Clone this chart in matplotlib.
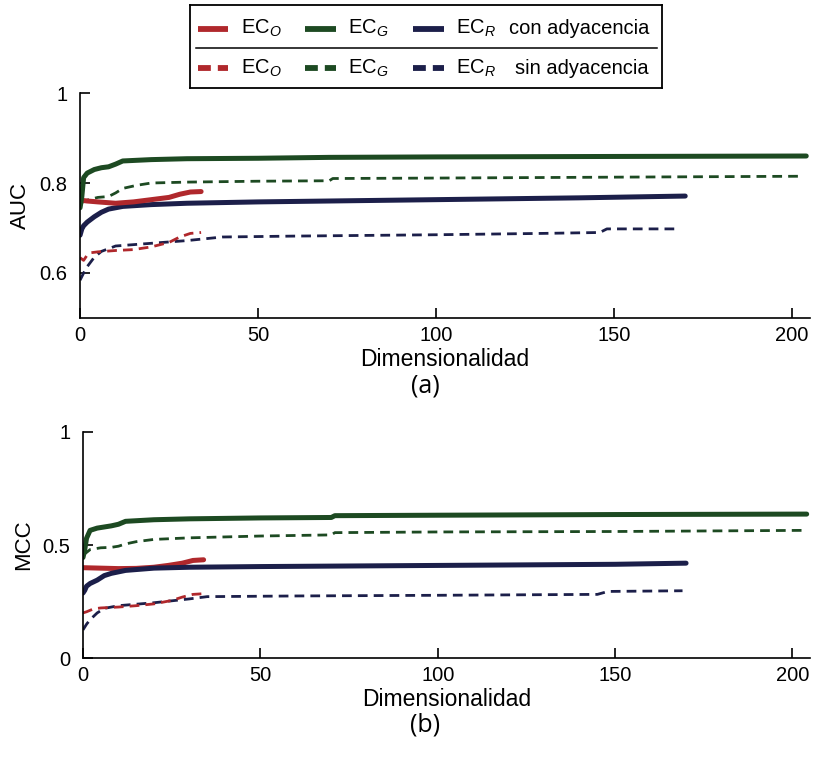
"""Curvas AUC y MCC frente a la dimensionalidad de los embeddings."""

import matplotlib
matplotlib.use("Agg")
import matplotlib.pyplot as plt
from matplotlib.lines import Line2D

plt.rcParams["font.family"] = ["Liberation Sans", "DejaVu Sans"]
plt.rcParams["mathtext.fontset"] = "custom"
plt.rcParams["mathtext.rm"] = "Liberation Sans"
plt.rcParams["mathtext.it"] = "Liberation Sans:italic"

RED = "#b0282c"
GREEN = "#1d4a22"
NAVY = "#1c1f4a"

# ---- AUC, con adyacencia ----
auc_o_x = [0, 2, 5, 10, 15, 20, 25, 28, 31, 34]
auc_o_y = [0.762, 0.760, 0.758, 0.755, 0.758, 0.763, 0.768, 0.775, 0.780, 0.781]
auc_g_x = [0, 0.5, 1, 2, 4, 6, 8, 10, 12, 20, 30, 50, 70, 100, 150, 204]
auc_g_y = [0.745, 0.770, 0.812, 0.822, 0.830, 0.834, 0.836, 0.842, 0.849, 0.852,
           0.854, 0.855, 0.857, 0.858, 0.859, 0.860]
auc_r_x = [0, 0.5, 1, 2, 4, 6, 8, 12, 20, 30, 50, 100, 140, 170]
auc_r_y = [0.684, 0.698, 0.705, 0.713, 0.725, 0.735, 0.742, 0.748, 0.752, 0.755,
           0.758, 0.763, 0.767, 0.771]

# ---- AUC, sin adyacencia ----
auc_o_sin_x = [0, 1, 2, 3, 5, 10, 15, 20, 25, 28, 31, 34]
auc_o_sin_y = [0.634, 0.628, 0.640, 0.645, 0.647, 0.650, 0.652, 0.658, 0.668, 0.680,
               0.688, 0.690]
auc_g_sin_x = [0, 2, 5, 8, 10, 12, 16, 20, 30, 50, 70, 71, 100, 150, 202]
auc_g_sin_y = [0.755, 0.762, 0.768, 0.770, 0.778, 0.788, 0.795, 0.800, 0.802, 0.804,
               0.805, 0.810, 0.811, 0.813, 0.815]
auc_r_sin_x = [0, 1, 2, 4, 6, 10, 20, 30, 40, 60, 100, 130, 146, 148, 168]
auc_r_sin_y = [0.584, 0.600, 0.614, 0.635, 0.648, 0.660, 0.666, 0.672, 0.680, 0.682,
               0.685, 0.688, 0.690, 0.698, 0.698]

# ---- MCC, con adyacencia ----
mcc_o_x = [0, 5, 10, 15, 20, 24, 28, 31, 34]
mcc_o_y = [0.400, 0.398, 0.396, 0.397, 0.402, 0.410, 0.420, 0.432, 0.435]
mcc_g_x = [0, 0.5, 1, 2, 4, 8, 10, 12, 20, 30, 50, 70, 71, 100, 150, 204]
mcc_g_y = [0.445, 0.480, 0.530, 0.565, 0.575, 0.585, 0.592, 0.605, 0.612, 0.616,
           0.620, 0.622, 0.630, 0.632, 0.635, 0.637]
mcc_r_x = [0, 0.5, 1, 2, 4, 6, 8, 12, 20, 30, 50, 100, 150, 170]
mcc_r_y = [0.288, 0.300, 0.318, 0.330, 0.345, 0.365, 0.375, 0.388, 0.398, 0.402,
           0.405, 0.410, 0.415, 0.420]

# ---- MCC, sin adyacencia ----
mcc_o_sin_x = [0, 1, 3, 5, 10, 15, 20, 25, 28, 31, 34]
mcc_o_sin_y = [0.200, 0.205, 0.218, 0.222, 0.226, 0.232, 0.240, 0.255, 0.270, 0.282,
               0.285]
mcc_g_sin_x = [0, 2, 5, 8, 10, 12, 15, 20, 30, 50, 70, 71, 100, 150, 203]
mcc_g_sin_y = [0.455, 0.480, 0.488, 0.490, 0.495, 0.505, 0.515, 0.525, 0.532, 0.540,
               0.545, 0.555, 0.558, 0.560, 0.565]
mcc_r_sin_x = [0, 1, 2, 4, 6, 10, 20, 30, 35, 60, 100, 145, 148, 169]
mcc_r_sin_y = [0.125, 0.150, 0.170, 0.200, 0.220, 0.232, 0.245, 0.262, 0.272, 0.275,
               0.278, 0.282, 0.295, 0.298]

SOLID_LW = 3.6
DASH_LW = 2.0


def draw_panel(ax, series, ylim, yticks, yticklabels, ylabel):
    """Dibuja un panel con las seis curvas y el estilo de ejes abierto."""
    for xs, ys, color, dashed in series:
        if dashed:
            ax.plot(xs, ys, color=color, lw=DASH_LW, ls=(0, (3.5, 2.2)),
                    solid_capstyle="butt")
        else:
            ax.plot(xs, ys, color=color, lw=SOLID_LW, solid_capstyle="round")

    ax.set_xlim(0, 205)
    ax.set_ylim(*ylim)
    ax.set_xticks([0, 50, 100, 150, 200])
    ax.set_yticks(yticks)
    ax.set_yticklabels(yticklabels)
    ax.spines["top"].set_visible(False)
    ax.spines["right"].set_visible(False)
    ax.spines["left"].set_linewidth(1.2)
    ax.spines["bottom"].set_linewidth(1.2)
    ax.tick_params(direction="in", length=7, width=1.2, labelsize=14.5)
    ax.tick_params(axis="x", pad=6)
    ax.tick_params(axis="y", pad=9)
    ax.set_xlabel("Dimensionalidad", fontsize=16.5, labelpad=2)
    ax.set_ylabel(ylabel, fontsize=16, labelpad=6)


fig = plt.figure(figsize=(8.34, 7.6), dpi=100)

ax_auc = fig.add_axes([0.096, 0.5816, 0.875, 0.296])
draw_panel(
    ax_auc,
    [
        (auc_g_sin_x, auc_g_sin_y, GREEN, True),
        (auc_r_sin_x, auc_r_sin_y, NAVY, True),
        (auc_o_sin_x, auc_o_sin_y, RED, True),
        (auc_r_x, auc_r_y, NAVY, False),
        (auc_o_x, auc_o_y, RED, False),
        (auc_g_x, auc_g_y, GREEN, False),
    ],
    (0.5, 1.0), [0.6, 0.8, 1.0], ["0.6", "0.8", "1"], "AUC",
)

ax_mcc = fig.add_axes([0.0995, 0.134, 0.872, 0.2976])
draw_panel(
    ax_mcc,
    [
        (mcc_g_sin_x, mcc_g_sin_y, GREEN, True),
        (mcc_r_sin_x, mcc_r_sin_y, NAVY, True),
        (mcc_o_sin_x, mcc_o_sin_y, RED, True),
        (mcc_o_x, mcc_o_y, RED, False),
        (mcc_r_x, mcc_r_y, NAVY, False),
        (mcc_g_x, mcc_g_y, GREEN, False),
    ],
    (0.0, 1.0), [0.0, 0.5, 1.0], ["0", "0.5", "1"], "MCC",
)

fig.text(0.51, 0.492, "(a)", ha="center", va="center", fontsize=18,
         family=["Open Sans", "DejaVu Sans"])
fig.text(0.51, 0.046, "(b)", ha="center", va="center", fontsize=18,
         family=["Open Sans", "DejaVu Sans"])

# Leyenda en dos filas separadas por una línea horizontal
leg = fig.add_axes([0.228, 0.884, 0.566, 0.109])
leg.set_xlim(0, 1)
leg.set_ylim(0, 1)
leg.set_xticks([])
leg.set_yticks([])
for side in leg.spines.values():
    side.set_linewidth(1.3)
leg.add_line(Line2D([0.012, 0.988], [0.485, 0.485], color="black", lw=1.1))

names = [r"EC$_{\mathit{O}}$", r"EC$_{\mathit{G}}$", r"EC$_{\mathit{R}}$"]
colors = [RED, GREEN, NAVY]
starts = [0.017, 0.244, 0.473]
for row_y, dashed, tag, tag_x in [(0.72, False, "con adyacencia", 0.675),
                                  (0.24, True, "sin adyacencia", 0.688)]:
    for name, color, x0 in zip(names, colors, starts):
        style = (0, (2.2, 1.2)) if dashed else "-"
        leg.add_line(Line2D([x0, x0 + 0.064], [row_y, row_y], color=color,
                            lw=4.2, ls=style, solid_capstyle="butt",
                            dash_capstyle="butt"))
        leg.text(x0 + 0.09, row_y, name, va="center", ha="left", fontsize=14.5)
    leg.text(tag_x, row_y, tag, va="center", ha="left", fontsize=14.5)

fig.savefig("out.png", dpi=100)
